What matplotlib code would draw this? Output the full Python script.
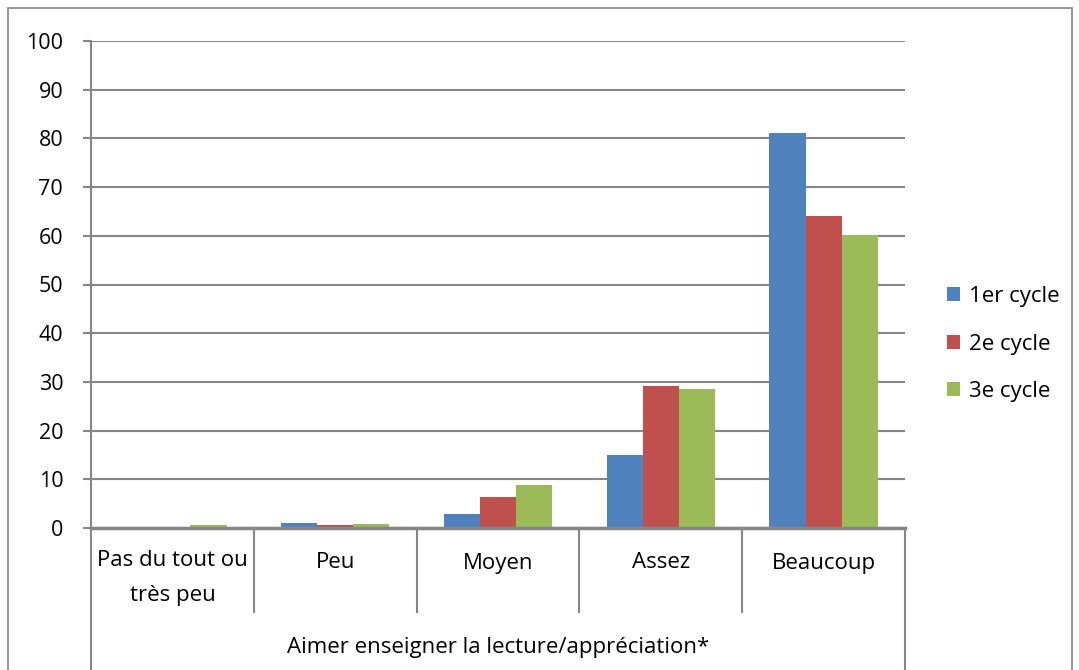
import matplotlib.pyplot as plt
from matplotlib.patches import Rectangle
import numpy as np

categories = ["Pas du tout ou\ntrès peu", "Peu", "Moyen", "Assez", "Beaucoup"]
series_names = ["1er cycle", "2e cycle", "3e cycle"]
cycle1 = [0.0, 1.0, 2.9, 15.0, 81.1]
cycle2 = [0.0, 0.6, 6.4, 29.2, 64.0]
cycle3 = [0.6, 0.8, 8.8, 28.5, 60.2]
outer_label = "Aimer enseigner la lecture/appréciation*"

colors = ["#4F81BD", "#C0504D", "#9BBB59"]
grid_col = "#868686"
W, H = 1079, 670

plt.rcParams['font.family'] = ['Open Sans', 'DejaVu Sans']

fig = plt.figure(figsize=(W / 100, H / 100), dpi=100)
# plot area in pixels
x0, x1, ytop, ybot = 91, 905, 41, 528
ax = fig.add_axes([x0 / W, (H - ybot) / H, (x1 - x0) / W, (ybot - ytop) / H])

# outer chart border
fig.patches.append(Rectangle((8 / W, -0.01), (1072 - 8) / W, (H - 8) / H + 0.01,
                             transform=fig.transFigure, fill=False,
                             edgecolor=grid_col, linewidth=1.2))

x = np.arange(len(categories))
w = 1 / 4.5
for i, vals in enumerate([cycle1, cycle2, cycle3]):
    ax.bar(x + (i - 1) * w, vals, width=w, color=colors[i], label=series_names[i],
           zorder=3, linewidth=0)

ax.set_xlim(-0.5, len(categories) - 0.5)
ax.set_ylim(0, 100)
ax.set_yticks(np.arange(0, 101, 10))
ax.yaxis.grid(True, color=grid_col, linewidth=1.5, zorder=0)
ax.set_axisbelow(True)
for s in ["top", "right"]:
    ax.spines[s].set_visible(False)
ax.spines["left"].set_color(grid_col)
ax.spines["left"].set_linewidth(1.5)
ax.spines["bottom"].set_color(grid_col)
ax.spines["bottom"].set_linewidth(2.5)
ax.spines["bottom"].set_zorder(4)
ax.tick_params(axis="y", length=6, width=1.5, color=grid_col, labelsize=15.5, pad=14)
ax.set_xticks([])

# multi-level category axis
ph = ybot - ytop
inner = -(612 - ybot) / ph
outer = -(H + 5 - ybot) / ph
for b in np.arange(-0.5, len(categories), 1.0):
    lo = outer if b in (-0.5, len(categories) - 0.5) else inner
    ax.plot([b, b], [0, lo], color=grid_col, linewidth=1.5,
            transform=ax.get_xaxis_transform(), clip_on=False)
for xi, lab in zip(x, categories):
    if "\n" in lab:
        ax.text(xi, -(550 - ybot) / ph, lab, transform=ax.get_xaxis_transform(),
                ha="center", va="top", fontsize=16, linespacing=1.9)
    else:
        ax.text(xi, -(563 - ybot) / ph, lab, transform=ax.get_xaxis_transform(),
                ha="center", va="center", fontsize=16)
ax.text((len(categories) - 1) / 2, -(647 - ybot) / ph, outer_label,
        transform=ax.get_xaxis_transform(), ha="center", va="center", fontsize=16)

fig.legend(loc="center left", bbox_to_anchor=(947 / W, (H - 344) / H),
           frameon=False, fontsize=16, handlelength=0.6, handleheight=0.6,
           handletextpad=0.4, labelspacing=1.2, borderpad=0, borderaxespad=0)

fig.savefig("out.png", dpi=100)
